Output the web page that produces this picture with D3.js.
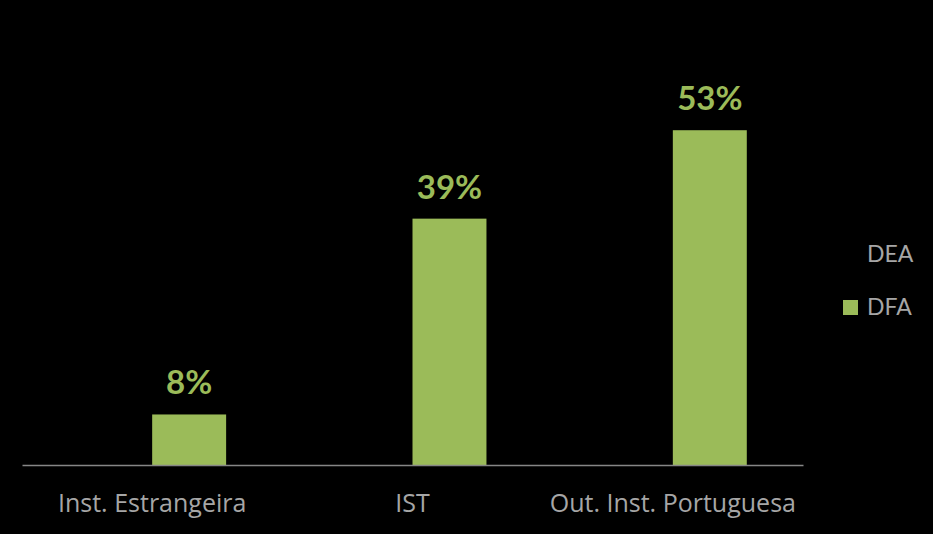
<!DOCTYPE html>
<html><head><meta charset="utf-8">
<script src="https://cdn.jsdelivr.net/npm/d3@7"></script>
<style>body{margin:0;background:#000;}svg{display:block;}</style>
</head><body>
<svg id="c" width="933" height="534"></svg>
<script>
const categories = ["Inst. Estrangeira", "IST", "Out. Inst. Portuguesa"];
const seriesNames = ["DEA", "DFA"];
const deaValues = [0, 0, 0];
const dfaValues = [8, 39, 53];
const valueLabels = ["8%", "39%", "53%"];

const svg = d3.select("#c");
svg.append("rect").attr("width", 933).attr("height", 534).attr("fill", "#000");
const font = "Lato, 'Open Sans', sans-serif";
const catFont = "'Open Sans', Lato, sans-serif";
const colors = {DEA: "#000000", DFA: "#9BBB59"};

const x = d3.scaleBand().domain(categories).range([22, 803]).paddingInner(0).paddingOuter(0);
const x1 = d3.scaleBand().domain(seriesNames).range([0, x.bandwidth()]).paddingInner(0).paddingOuter(0.76);
const y = d3.scaleLinear().domain([0, 60]).range([465, 86]);

const data = categories.map((c, i) => ({cat: c, DEA: deaValues[i], DFA: dfaValues[i], label: valueLabels[i]}));

const g = svg.append("g");
data.forEach(d => {
  seriesNames.forEach(s => {
    g.append("rect")
      .attr("x", x(d.cat) + x1(s))
      .attr("width", x1.bandwidth())
      .attr("y", y(d[s]))
      .attr("height", y(0) - y(d[s]))
      .attr("fill", colors[s]);
  });
  g.append("text")
    .attr("x", x(d.cat) + x1("DFA") + x1.bandwidth() / 2)
    .attr("y", y(d.DFA) - 20)
    .attr("text-anchor", "middle")
    .attr("font-family", font).attr("font-weight", "bold").attr("font-size", 33)
    .attr("fill", "#9BBB59")
    .text(d.label);
});

const xAxis = svg.append("g").attr("transform", "translate(0,465)")
  .call(d3.axisBottom(x).tickSize(0).tickPadding(0));
xAxis.select(".domain").attr("stroke", "#868686").attr("stroke-width", 1.3);
xAxis.selectAll("text").attr("dy", null).attr("y", 47)
  .attr("font-family", catFont).attr("font-size", 25).attr("fill", "#A6A6A6");

const leg = svg.append("g");
seriesNames.forEach((s, i) => {
  const yy = 262 + i * 53;
  leg.append("rect").attr("x", 843).attr("y", yy - 15).attr("width", 15).attr("height", 15).attr("fill", colors[s]);
  leg.append("text").attr("x", 867).attr("y", yy)
    .attr("font-family", font).attr("font-size", 23).attr("fill", "#A6A6A6").text(s);
});
</script>
</body></html>
